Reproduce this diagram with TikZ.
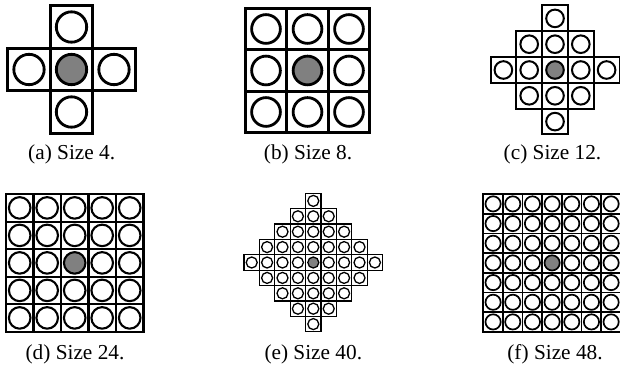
\documentclass[tikz,border=0pt]{standalone}
\usepackage{fontspec}
\setmainfont{Liberation Serif}
\definecolor{pegGray}{HTML}{808080}
\tikzset{
  peg/.style={draw=black,fill=white},
  hole/.style={draw=black,fill=pegGray},
  capt/.style={font=\fontsize{21.3}{25}\selectfont, anchor=base, inner sep=0pt}
}
% #1 cx, #2 cy, #3 cell size, #4 line width (number, pt), #5 style, #6 outer diameter fraction
\newcommand\pegcell[6]{%
  \pgfmathsetmacro\pcxa{#1-#3/2}\pgfmathsetmacro\pcxb{#1+#3/2}%
  \pgfmathsetmacro\pcya{#2-#3/2}\pgfmathsetmacro\pcyb{#2+#3/2}%
  \pgfmathsetmacro\pcr{(#6*#3-#4)/2}%
  \draw[line width=#4pt] (\pcxa,\pcya) rectangle (\pcxb,\pcyb);
  \draw[line width=#4pt,#5] (#1,#2) circle[radius=\pcr];
}
% #1 cx, #2 cy, #3 s, #4 lw, #5 n, #6 0=diamond 1=square, #7 circle fraction
\newcommand\pegboard[7]{%
  \foreach \i in {-#5,...,#5}{\foreach \j in {-#5,...,#5}{%
    \pgfmathtruncatemacro\dd{abs(\i)+abs(\j)}%
    \pgfmathtruncatemacro\ok{(#6==1) || (\dd<=#5)}%
    \ifnum\ok=1
      \ifnum\dd=0 \def\pst{hole}\else\def\pst{peg}\fi
      \pgfmathsetmacro\qx{#1+\i*#3}\pgfmathsetmacro\qy{#2+\j*#3}%
      \pegcell{\qx}{\qy}{#3}{#4}{\pst}{#7}
    \fi}}%
}
\begin{document}
\begin{tikzpicture}[x=1pt,y=-1pt]
\useasboundingbox (0,0) rectangle (620,371);
% (a) size 4
\pegboard{71.5}{69.5}{42.5}{2.8}{1}{0}{0.78}
% (b) size 8
\pegboard{307.5}{70.5}{41.5}{2.8}{1}{1}{0.76}
% (c) size 12
\pegboard{555}{70}{25.8}{2}{2}{0}{0.76}
% (d) size 24
\pegboard{74.7}{262.9}{27.5}{2.1}{2}{1}{0.86}
% (e) size 40
\pegboard{313.3}{262.5}{15.4}{1.3}{4}{0}{0.8}
% (f) size 48
\pegboard{552.1}{262.9}{19.67}{1.7}{3}{1}{0.86}
% captions
\node[capt] (ca) at (71.7,160) {(a) Size 4.};
\node[capt] (cb) at (308,160) {(b) Size 8.};
\node[capt] (cc) at (552.5,160) {(c) Size 12.};
\node[capt] (cd) at (75,359) {(d) Size 24.};
\node[capt] (ce) at (313.3,359) {(e) Size 40.};
\node[capt] (cf) at (555,359) {(f) Size 48.};
\end{tikzpicture}
\end{document}
